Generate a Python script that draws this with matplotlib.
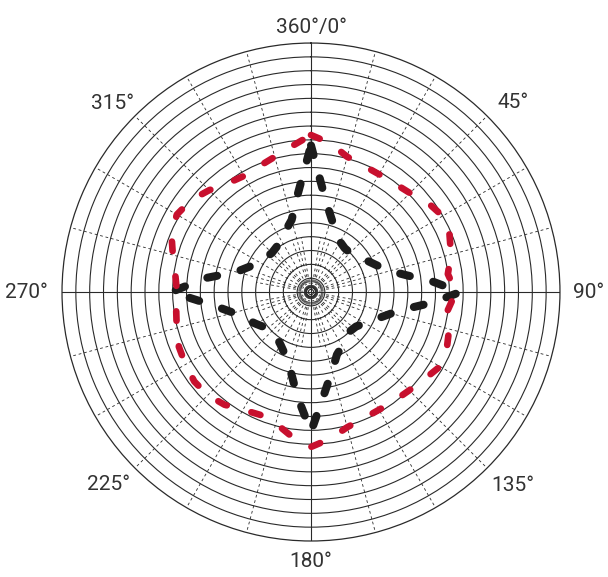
import numpy as np
import matplotlib
matplotlib.use("Agg")
import matplotlib.pyplot as plt

plt.rcParams["lines.scale_dashes"] = False

# ---- data (angle in degrees clockwise from top, radius in ring units: 10 per ring) ----
black_angles = [0, 5, 10, 15, 22.5, 30, 37.5, 45, 52.5, 60, 67.5, 75, 80, 85, 90,
                95, 100, 105, 112.5, 120, 127.5, 135, 142.5, 150, 157.5, 165, 172.5, 180,
                187.5, 195, 202.5, 210, 217.5, 225, 232.5, 240, 247.5, 255, 262.5, 270,
                277.5, 285, 292.5, 300, 307.5, 315, 322.5, 330, 337.5, 345, 352.5, 360]
black_values = [106, 80, 65, 56, 47, 42, 40, 40, 42, 46, 51, 59, 70, 88, 108,
                88, 70, 60, 51, 45, 41, 40, 42, 45, 49, 59, 74, 101,
                76, 58, 49, 44, 41, 40, 42, 46, 51, 58, 72, 101,
                77, 56, 48, 43, 41, 40, 41, 43, 48, 54, 72, 106]

red_angles = [0, 7.5, 15, 22.5, 30, 37.5, 45, 52.5, 60, 67.5, 75, 82.5, 90,
              97.5, 105, 112.5, 120, 127.5, 135, 142.5, 150, 157.5, 165, 172.5, 180,
              187.5, 195, 202.5, 210, 217.5, 225, 232.5, 240, 247.5, 255, 262.5, 270,
              277.5, 285, 292.5, 300, 307.5, 315, 322.5, 330, 337.5, 345, 352.5, 360]
red_values = [113.5, 108.4, 101.2, 99, 98.3, 99, 101.2, 106.3, 109.9, 108.4, 104.8, 99.8, 104.8,
              99.8, 103.4, 106.3, 107.7, 103.4, 100.5, 99, 98.3, 99, 101.2, 107, 112,
              105.5, 98.3, 96.1, 98.3, 102.7, 105.5, 106.3, 104.8, 103.4, 100.5, 98.3, 96.9,
              99, 103.4, 109.2, 112, 109.2, 104.1, 99, 96.9, 98.3, 101.2, 106.3, 113.5]

ring_values = list(range(10, 180, 10))
r_max = 180

label_texts = ["360°/0°", "45°", "90°", "135°", "180°", "225°", "270°", "315°"]
label_pos_angles = [0, 46.9, 90, 133.7, 180, 226.4, 270, 313.5]
label_radii = [191, 200, 201, 202, 195, 202, 206, 198]

# ---- figure ----
fig = plt.figure(figsize=(6.08, 5.77), dpi=100)
ax = fig.add_axes([0.102, 0.0624, 0.819, 0.863], projection="polar")
ax.set_theta_zero_location("N")
ax.set_theta_direction(-1)
ax.set_ylim(0, r_max)

grid_col = "#2a2a2a"
ax.set_yticks(ring_values)
ax.set_yticklabels([])
ax.set_xticks(np.deg2rad([0, 90, 180, 270]))
ax.set_xticklabels([])
ax.tick_params(length=0)
ax.grid(True, color=grid_col, lw=0.8, ls="-")
ax.spines["polar"].set_color(grid_col)
ax.spines["polar"].set_linewidth(0.9)

# small inner circles
th = np.linspace(0, 2 * np.pi, 200)
for rr in (1.9, 3.2):
    ax.plot(th, np.full_like(th, rr), color=grid_col, lw=0.8)
ax.plot(th, np.full_like(th, 6.5), color=grid_col, lw=0.6, ls=(0, (1.5, 1.5)))

# dashed radial lines
for a in range(0, 360, 5):
    if a % 90 == 0:
        continue
    if a % 15 == 0:
        r1 = r_max
    elif a % 10 == 0:
        r1 = 40
    else:
        r1 = 10
    t = np.deg2rad(a)
    ax.plot([t, t], [3.2, r1], color=grid_col, lw=0.6, ls=(0, (2, 2)))

# data curves
ax.plot(np.deg2rad(black_angles), black_values, color="#1c1c1c", lw=5.8,
        ls=(0, (7.2, 17.3)), dash_capstyle="round", zorder=5)
ax.plot(np.deg2rad(red_angles), red_values, color="#c8102e", lw=4.8,
        ls=(0, (6.8, 18.4)), dash_capstyle="round", zorder=6)

for a, txt, rr in zip(label_pos_angles, label_texts, label_radii):
    ax.text(np.deg2rad(a), rr, txt, ha="center", va="center", fontsize=15,
            color="#333333", family="Roboto", clip_on=False)

fig.savefig("out.png", dpi=100)
